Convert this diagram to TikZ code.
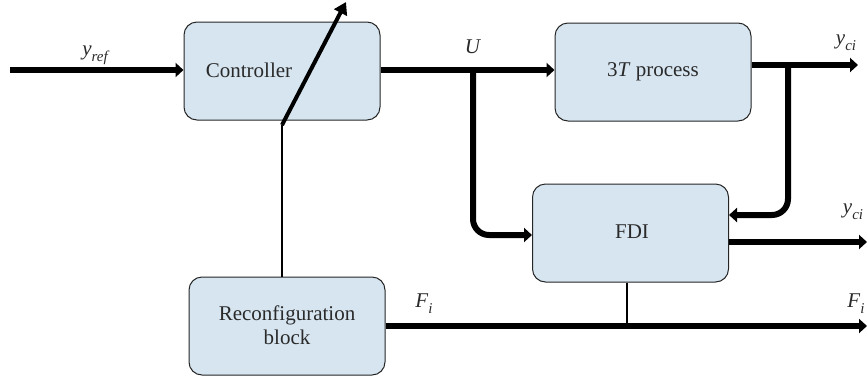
\documentclass[tikz,border=0pt]{standalone}
\usepackage{fontspec}
\setmainfont{Liberation Serif}
\usetikzlibrary{arrows.meta}
\definecolor{boxfill}{HTML}{D6E5F0}
\definecolor{txt}{HTML}{2A2A2A}
\newcommand\mysub[1]{\raisebox{-0.28em}{\fontsize{15}{15}\selectfont\itshape #1}}
\begin{document}
\begin{tikzpicture}[x=1pt,y=-1pt,
  blk/.style={draw=black!85,line width=1pt,fill=boxfill,rounded corners=13pt,minimum width=196pt,minimum height=98pt,inner sep=0pt},
  lbl/.style={text=txt,font=\fontsize{21}{25}\selectfont,inner sep=0pt},
  thick arrow/.style={line width=6pt,-{Triangle[length=8pt,width=14pt]}},
  thin line/.style={line width=2.6pt}]
\useasboundingbox (0,0) rectangle (867,381);
% blocks
\node[blk] (ctrl) at (282,71) {};
\node[blk] (proc) at (653,72) {};
\node[blk] (fdi) at (630.5,233) {};
\node[blk] (rec) at (287,326) {};
% texts in blocks
\node[lbl] (ctrltxt) at (249,70) {Controller};
\node[lbl] (proctxt) at (653,72) {3\textit{T} process};
\node[lbl] (fditxt) at (632,232) {FDI};
\node[lbl,align=center] (rectxt) at (287,325) {Reconfiguration\\[-1pt]block};
% coordinates
\coordinate (yin) at (10,70);
\coordinate (U) at (473,70);
\coordinate (Y) at (788,65);
\coordinate (yout) at (858,65);
\coordinate (fout) at (867,242);
\coordinate (Fout) at (867,326);
\coordinate (pivot) at (282,125);
\coordinate (tip) at (346,2);
% connectors
\draw[thick arrow] (yin) -- (yin -| ctrl.west);
\draw[thick arrow] (ctrl.east |- U) -- (U -| proc.west);
\draw[thick arrow,rounded corners=16pt] (U) |- (fdi.west |- 0,235);
\draw[thick arrow] (proc.east |- Y) -- (yout);
\draw[thick arrow,rounded corners=16pt] (Y) |- (fdi.east |- 0,215);
\draw[thick arrow] (fdi.east |- fout) -- (fout);
\draw[thick arrow] (rec.east |- Fout) -- (Fout);
\draw[thin line] (fdi.south -| 627,0) -- (627,326);
\draw[thin line] (rec.north -| pivot) -- (pivot);
\draw[line width=4pt,-{Triangle[length=12pt,width=14pt]}] (pivot) -- (tip);
% labels
\node[lbl] (lyref) at (95,55) {\textit{y}\mysub{ref}};
\node[lbl] (lU) at (473,47) {\textit{U}};
\node[lbl] (lyci1) at (846,43) {\textit{y}\mysub{ci}};
\node[lbl] (lyci2) at (853,212) {\textit{y}\mysub{ci}};
\node[lbl] (lF1) at (424,304) {\textit{F}\mysub{i}};
\node[lbl] (lF2) at (856,304) {\textit{F}\mysub{i}};
\end{tikzpicture}
\end{document}
